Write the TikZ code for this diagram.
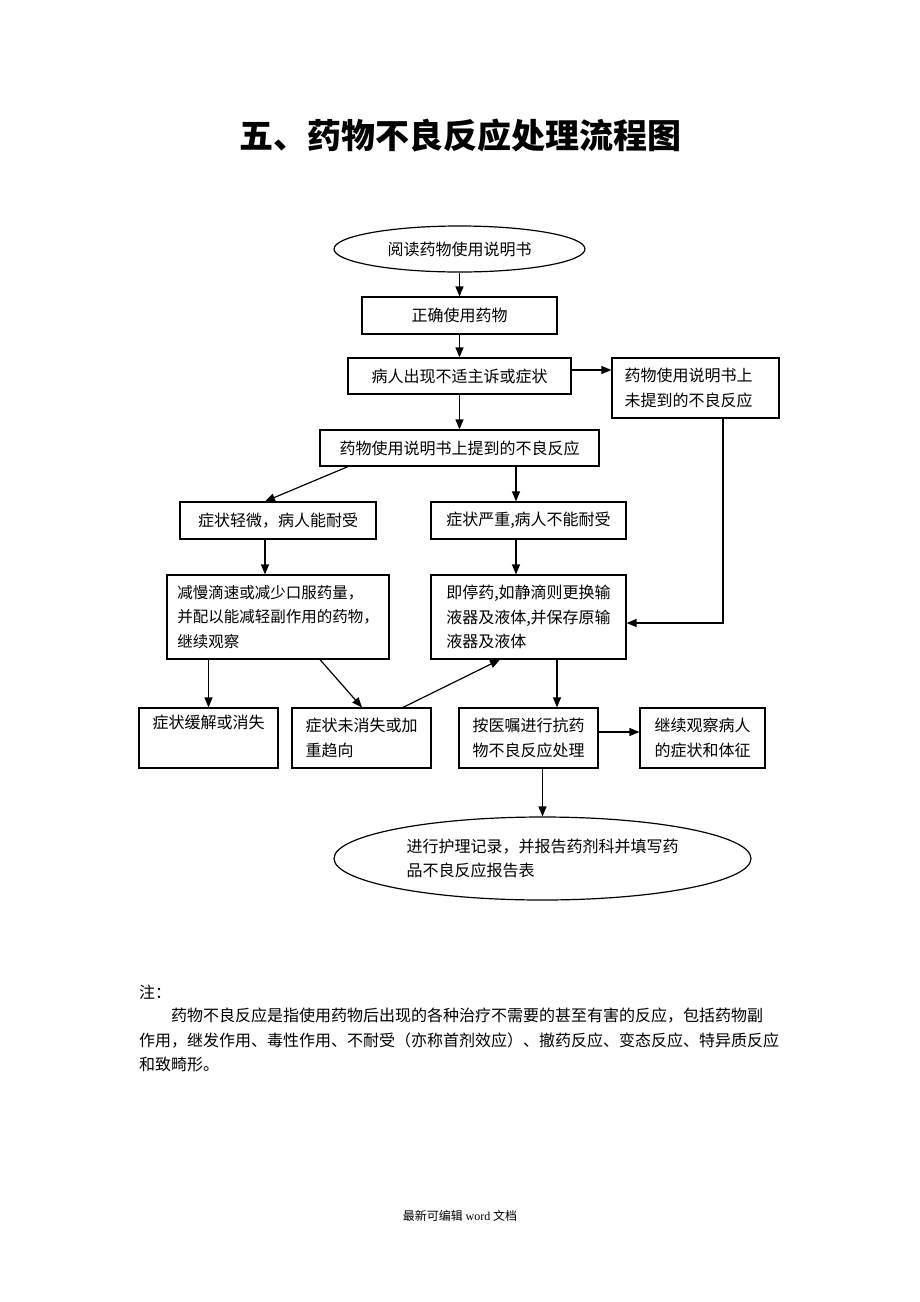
\documentclass[tikz,border=0pt]{standalone}
\usepackage{fontspec}
\newfontfamily\cjk{Noto Sans CJK SC}
\newfontfamily\lserif{Liberation Serif}
\usetikzlibrary{shapes.geometric,arrows.meta}
\XeTeXlinebreaklocale "zh"
\XeTeXlinebreakskip=0pt plus 3pt
\begin{document}
\begin{tikzpicture}[x=1pt,y=-1pt,
  every node/.style={font=\cjk\fontsize{16}{24.5}\selectfont},
  bx/.style={draw, line width=1.2pt, rectangle, inner sep=0pt, align=left},
  ov/.style={draw, line width=1.2pt, ellipse, inner sep=0pt, align=left},
  ar/.style={line width=1.2pt, -{Triangle[length=10pt,width=8pt]}},
  txt/.style={anchor=base west, inner sep=0pt, font=\cjk\fontsize{16}{24}\selectfont}]
\useasboundingbox (0,0) rectangle (920,1302);

\node[font=\cjk\bfseries\fontsize{34}{40}\selectfont] (title) at (460,136) {五、药物不良反应处理流程图};

\node[ov, minimum width=251pt, minimum height=46pt] (e1) at (459.5,249) {阅读药物使用说明书};
\node[bx, minimum width=195pt, minimum height=37pt] (n2) at (459.5,315.5) {正确使用药物};
\node[bx, minimum width=223pt, minimum height=36pt] (n3) at (459.5,376) {病人出现不适主诉或症状};
\node[bx, minimum width=167pt, minimum height=60pt] (rt) at (695.5,388) {\makebox[142pt][s]{药物使用说明书上}\\未提到的不良反应};
\node[bx, minimum width=279pt, minimum height=36pt] (n4) at (459.5,448) {药物使用说明书上提到的不良反应};
\node[bx, minimum width=196pt, minimum height=37pt] (n5) at (278,520.5) {症状轻微，病人能耐受};
\node[bx, minimum width=195pt, minimum height=37pt] (n6) at (528.5,520.5) {症状严重,病人不能耐受};
\node[bx, minimum width=222pt, minimum height=84pt, font=\cjk\fontsize{15.5}{24.5}\selectfont] (n7) at (278,617) {减慢滴速或减少口服药量，\\并配以能减轻副作用的药物，\\继续观察};
\node[bx, minimum width=195pt, minimum height=84pt] (n8) at (528.5,617) {即停药,如静滴则更换输\\液器及液体,并保存原输\\液器及液体};
\node[bx, minimum width=139pt, minimum height=60pt] (b1) at (208.5,738) {症状缓解或消失\\\strut};
\node[bx, minimum width=139pt, minimum height=60pt] (b2) at (361.5,738) {症状未消失或加\\重趋向};
\node[bx, minimum width=139pt, minimum height=60pt] (b3) at (528.5,738) {按医嘱进行抗药\\物不良反应处理};
\node[bx, minimum width=125pt, minimum height=60pt] (b4) at (702.5,738) {继续观察病人\\的症状和体征};
\node[ov, minimum width=417pt, minimum height=83pt] (e2) at (542.5,858.5) {进行护理记录，并报告药剂科并填写药\\品不良反应报告表};

\coordinate (a3) at ([yshift=6pt]n3.east);
\coordinate (ab3) at ([yshift=6pt]b3.east);
\coordinate (rtc) at ([xshift=27.5pt]rt.south);
\coordinate (n8e) at ([yshift=-6pt]n8.east);

\draw[ar] (e1.south) -- (n2.north);
\draw[ar] (n2.south) -- (n3.north);
\draw[ar] (a3) -- (rt.west |- a3);
\draw[ar] (n3.south) -- (n4.north);
\draw[ar] ([xshift=-111.5pt]n4.south) -- ([xshift=-13pt]n5.north);
\draw[ar] ([xshift=56.5pt]n4.south) -- ([xshift=-12.5pt]n6.north);
\draw[ar] ([xshift=-13pt]n5.south) -- ([xshift=-13pt]n7.north);
\draw[ar] ([xshift=-12.5pt]n6.south) -- ([xshift=-12.5pt]n8.north);
\draw[ar] (rtc) |- (n8e);
\draw[ar] ([xshift=-69.5pt]n7.south) -- ([xshift=0pt]b1.north);
\draw[ar] ([xshift=42pt]n7.south) -- ([xshift=0.5pt]b2.north);
\draw[ar] ([xshift=41.5pt]b2.north) -- ([xshift=-28.5pt]n8.south);
\draw[ar] ([xshift=28.5pt]n8.south) -- ([xshift=28.5pt]b3.north);
\draw[ar] (ab3) -- (b4.west |- ab3);
\draw[ar] ([xshift=14pt]b3.south) -- (e2.north);

\node[txt] (note0) at (139,998) {注：};
\node[txt] (note1) at (171,1021) {\makebox[610pt][s]{药物不良反应是指使用药物后出现的各种治疗不需要的甚至有害的反应，包括药物副}};
\node[txt] (note2) at (139,1046) {\makebox[642pt][s]{作用，继发作用、毒性作用、不耐受（亦称首剂效应）、撤药反应、变态反应、特异质反应}};
\node[txt] (note3) at (139,1070) {和致畸形。};

\node[anchor=base, inner sep=0pt, font=\cjk\fontsize{12}{14}\selectfont] (foot) at (460,1220) {最新可编辑 {\lserif word} 文档};
\end{tikzpicture}
\end{document}
